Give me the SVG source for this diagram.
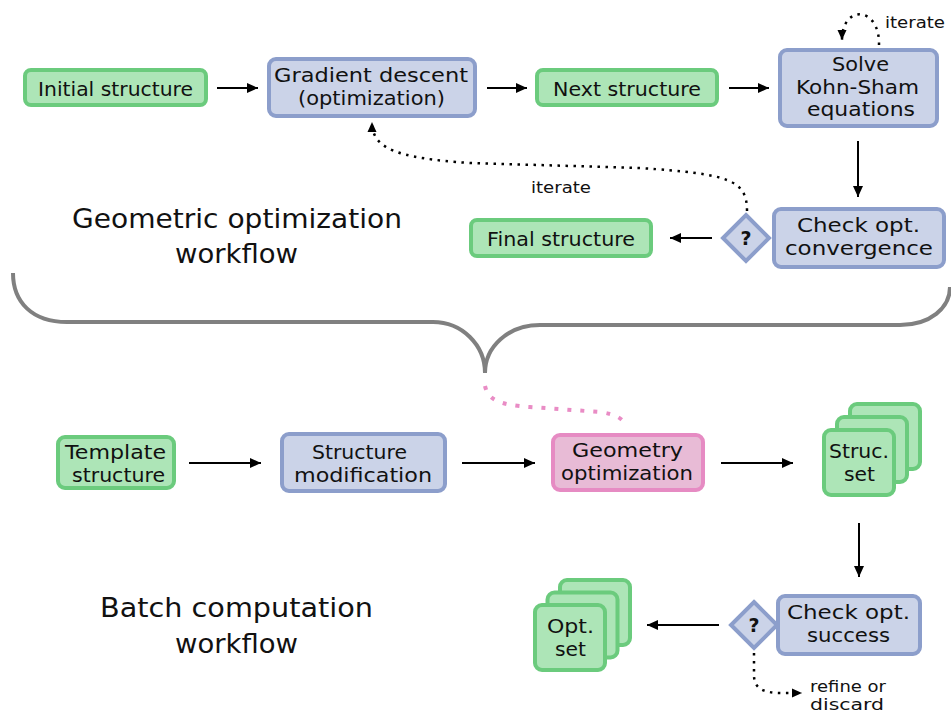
<svg xmlns="http://www.w3.org/2000/svg" width="951" height="714" viewBox="0 0 951 714">
  <style>
    .green { fill: #ade5b7; stroke: #6bcb7d; stroke-width: 4; }
    .blue { fill: #cbd3e8; stroke: #8c9ecb; stroke-width: 4; }
    .pink { fill: #e8bbd6; stroke: #e68bc3; stroke-width: 4; }
    .lbl { font-family: "DejaVu Sans", "Liberation Sans", sans-serif; font-size: 19.5px; fill: #111; text-anchor: middle; }
    .small { font-family: "DejaVu Sans", "Liberation Sans", sans-serif; font-size: 16px; fill: #111; }
    .title { font-family: "DejaVu Sans", "Liberation Sans", sans-serif; font-size: 27px; fill: #111; text-anchor: middle; }
    .q { font-family: "DejaVu Sans", "Liberation Sans", sans-serif; font-size: 19px; font-weight: bold; fill: #111; text-anchor: middle; }
    .arrow { fill: none; stroke: #000; stroke-width: 2; marker-end: url(#head); }
    .dotted { fill: none; stroke: #000; stroke-width: 2.5; stroke-dasharray: 2.5 5.5; marker-end: url(#headSmall); }
  </style>
  <defs>
    <marker id="head" markerUnits="userSpaceOnUse" markerWidth="11" markerHeight="10" refX="11" refY="5" orient="auto">
      <path d="M0,0 L11,5 L0,10 Z" fill="#000"/>
    </marker>
    <marker id="headSmall" markerUnits="userSpaceOnUse" markerWidth="10" markerHeight="10" refX="10" refY="5" orient="auto">
      <path d="M0,0.5 L10,5 L0,9.5 Z" fill="#000"/>
    </marker>
  </defs>

  <rect width="951" height="714" fill="#fff"/>

  <!-- section titles -->
  <text class="title" x="237" y="228" textLength="330" lengthAdjust="spacingAndGlyphs">Geometric optimization</text>
  <text class="title" x="236.5" y="263" textLength="123" lengthAdjust="spacingAndGlyphs">workflow</text>
  <text class="title" x="236.5" y="617" textLength="273" lengthAdjust="spacingAndGlyphs">Batch computation</text>
  <text class="title" x="236.5" y="653" textLength="123" lengthAdjust="spacingAndGlyphs">workflow</text>

  <!-- curly brace joining the two workflows -->
  <path d="M13 273 C13 302 32 322 67 322 L433 322 C462 322 485 345 485 373 C485 347 508 325 540 325 L900 325 C930 325 950 308 950 287" fill="none" stroke="#808080" stroke-width="4"/>

  <g id="connectors">
    <line class="arrow" x1="217" y1="88" x2="258" y2="88"/>
    <line class="arrow" x1="487" y1="88" x2="527" y2="88"/>
    <line class="arrow" x1="729" y1="88" x2="769" y2="88"/>
    <line class="arrow" x1="858" y1="141" x2="858" y2="197"/>
    <line class="arrow" x1="712" y1="238" x2="670" y2="238"/>
    <line class="arrow" x1="189" y1="463" x2="261" y2="463"/>
    <line class="arrow" x1="462" y1="463" x2="535" y2="463"/>
    <line class="arrow" x1="721" y1="463" x2="793" y2="463"/>
    <line class="arrow" x1="859" y1="523" x2="859" y2="577"/>
    <line class="arrow" x1="719" y1="625" x2="647" y2="625"/>
    <!-- Kohn-Sham self-consistency loop -->
    <path class="dotted" d="M879 45 C880 6 842 4 842 40"/>
    <text class="small" x="885" y="28" textLength="60" lengthAdjust="spacingAndGlyphs">iterate</text>
    <!-- convergence loop back to gradient descent -->
    <path class="dotted" d="M747 211 C747 180 730 174 640 168 L470 163 C395 158 372 148 372 122"/>
    <text class="small" x="531" y="193" textLength="60" lengthAdjust="spacingAndGlyphs">iterate</text>
    <!-- failed optimizations -->
    <path class="dotted" d="M754 653 L754 675 C754 689 764 693 782 693 L802 693"/>
    <text class="small" x="810" y="692" textLength="76" lengthAdjust="spacingAndGlyphs">refine or</text>
    <text class="small" x="810" y="710" textLength="74" lengthAdjust="spacingAndGlyphs">discard</text>
    <!-- link from brace to geometry optimization step -->
    <path d="M485 386 C488 400 500 405 530 407 L600 412 C615 414 622 418 626 425" fill="none" stroke="#e98cc5" stroke-width="4" stroke-dasharray="4 9"/>
  </g>

  <g id="initial-structure">
    <rect class="green" x="25" y="70" width="181" height="35" rx="6"/>
    <text class="lbl" x="115.5" y="96" textLength="155" lengthAdjust="spacingAndGlyphs">Initial structure</text>
  </g>
  <g id="gradient-descent">
    <rect class="blue" x="269" y="59" width="206" height="57" rx="7"/>
    <text class="lbl" x="371" y="82" textLength="194" lengthAdjust="spacingAndGlyphs">Gradient descent</text>
    <text class="lbl" x="371.5" y="105" textLength="147" lengthAdjust="spacingAndGlyphs">(optimization)</text>
  </g>
  <g id="next-structure">
    <rect class="green" x="537" y="70" width="180" height="35" rx="6"/>
    <text class="lbl" x="627" y="96" textLength="148" lengthAdjust="spacingAndGlyphs">Next structure</text>
  </g>
  <g id="solve-kohn-sham">
    <rect class="blue" x="780" y="50" width="157" height="76" rx="7"/>
    <text class="lbl" x="860.5" y="71" textLength="57" lengthAdjust="spacingAndGlyphs">Solve</text>
    <text class="lbl" x="857.5" y="94" textLength="123" lengthAdjust="spacingAndGlyphs">Kohn-Sham</text>
    <text class="lbl" x="861" y="116" textLength="108" lengthAdjust="spacingAndGlyphs">equations</text>
  </g>
  <g id="check-convergence">
    <rect class="blue" x="774" y="209" width="170" height="58" rx="7"/>
    <text class="lbl" x="858.5" y="232" textLength="123" lengthAdjust="spacingAndGlyphs">Check opt.</text>
    <text class="lbl" x="859" y="255" textLength="148" lengthAdjust="spacingAndGlyphs">convergence</text>
  </g>
  <g id="convergence-decision">
    <polygon class="blue" points="746,215 769,238 746,261 723,238"/>
    <text class="q" x="746" y="245">?</text>
  </g>
  <g id="final-structure">
    <rect class="green" x="471" y="220" width="180" height="36" rx="6"/>
    <text class="lbl" x="561" y="246" textLength="148" lengthAdjust="spacingAndGlyphs">Final structure</text>
  </g>

  <g id="template-structure">
    <rect class="green" x="58" y="437" width="116" height="51" rx="7"/>
    <text class="lbl" x="115.5" y="459" textLength="101" lengthAdjust="spacingAndGlyphs">Template</text>
    <text class="lbl" x="118.5" y="482" textLength="93" lengthAdjust="spacingAndGlyphs">structure</text>
  </g>
  <g id="structure-modification">
    <rect class="blue" x="282" y="434" width="163" height="57" rx="7"/>
    <text class="lbl" x="359.5" y="459" textLength="95" lengthAdjust="spacingAndGlyphs">Structure</text>
    <text class="lbl" x="363" y="482" textLength="138" lengthAdjust="spacingAndGlyphs">modification</text>
  </g>
  <g id="geometry-optimization">
    <rect class="pink" x="553" y="435" width="150" height="55" rx="7"/>
    <text class="lbl" x="627.5" y="457" textLength="111" lengthAdjust="spacingAndGlyphs">Geometry</text>
    <text class="lbl" x="627" y="480" textLength="132" lengthAdjust="spacingAndGlyphs">optimization</text>
  </g>
  <g id="structure-set">
    <rect class="green" x="850" y="404" width="70" height="65" rx="7"/>
    <rect class="green" x="837" y="417" width="70" height="65" rx="7"/>
    <rect class="green" x="824" y="430" width="70" height="65" rx="7"/>
    <text class="lbl" x="859" y="458" textLength="60" lengthAdjust="spacingAndGlyphs">Struc.</text>
    <text class="lbl" x="859.5" y="481" textLength="31" lengthAdjust="spacingAndGlyphs">set</text>
  </g>
  <g id="check-success">
    <rect class="blue" x="778" y="596" width="142" height="58" rx="7"/>
    <text class="lbl" x="848.5" y="619" textLength="123" lengthAdjust="spacingAndGlyphs">Check opt.</text>
    <text class="lbl" x="848.5" y="642" textLength="83" lengthAdjust="spacingAndGlyphs">success</text>
  </g>
  <g id="success-decision">
    <polygon class="blue" points="754,602 777,625 754,648 731,625"/>
    <text class="q" x="754" y="632">?</text>
  </g>
  <g id="optimized-set">
    <rect class="green" x="560" y="580" width="70" height="65" rx="7"/>
    <rect class="green" x="547.5" y="592.5" width="70" height="65" rx="7"/>
    <rect class="green" x="535" y="605" width="70" height="65" rx="7"/>
    <text class="lbl" x="570.5" y="633" textLength="47" lengthAdjust="spacingAndGlyphs">Opt.</text>
    <text class="lbl" x="570.5" y="656" textLength="31" lengthAdjust="spacingAndGlyphs">set</text>
  </g>
</svg>
